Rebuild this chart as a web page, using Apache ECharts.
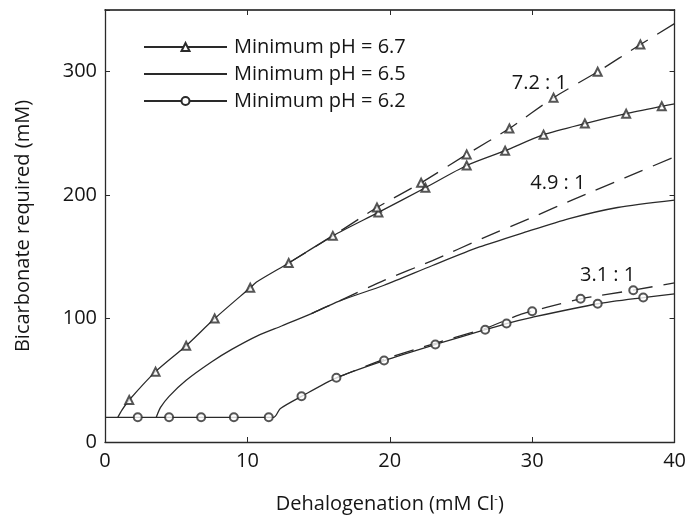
<!DOCTYPE html>
<html>
<head>
<meta charset="utf-8">
<title>Bicarbonate required</title>
<script src="https://cdn.jsdelivr.net/npm/echarts@6/dist/echarts.min.js"></script>
<style>html,body{margin:0;background:#fff;}</style>
</head>
<body>
<div id="chartmain" style="width:689px;height:521px;"></div>
<script type="text/javascript">
// values: [dehalogenation mM Cl-, bicarbonate mM]
var ph67Line = [[0.9,20],[1.2,26],[1.7,34],[3.55,57],[5.7,78],[7.7,100],[10.2,125],[10.7,130],[12.9,145],[16,167],[19.2,186],[22.5,206],[25.4,224],[28.1,236],[30.8,249],[33.7,258],[36.6,266],[39.1,272],[40,274]];
var ph67Dash = [[12.9,145],[16,167],[19.1,190],[22.2,210],[25.4,233],[28.4,254],[31.5,279],[34.6,300],[37.6,322],[40,339]];
var ph67Marks = [[1.7,34],[3.55,57],[5.7,78],[7.7,100],[10.2,125],[12.9,145],[16,167],[19.2,186],[22.5,206],[25.4,224],[28.1,236],[30.8,249],[33.7,258],[36.6,266],[39.1,272]];
var ph67DashMarks = [[19.1,190],[22.2,210],[25.4,233],[28.4,254],[31.5,279],[34.6,300],[37.6,322]];

var ph65Line = [[3.6,20],[3.9,28],[4.5,37],[5.7,50],[7.5,65],[8.9,75],[10.7,86],[12.4,94],[14.5,104],[16.4,114],[19.6,127],[23,143],[26.3,158],[29.5,170],[32.6,181],[36,190],[40,196]];
var ph65Dash = [[14.5,104],[16.4,114],[19.6,131],[23,147],[26.5,165],[29.8,181],[33,197],[36.5,214],[40,231]];

var ph62Line = [[0,20],[11.85,20],[12.3,27],[13.8,37],[16.25,52],[19.6,66],[23.2,79],[26.7,91],[28.2,96],[30,101],[34.6,112],[37.8,117],[40,120]];
var ph62Dash = [[16.25,52],[19.6,67],[23.2,80],[26.7,92],[29.1,103],[31,109],[33.4,116],[37.1,123],[40,129]];
var ph62Marks = [[2.3,20],[4.5,20],[6.75,20],[9.05,20],[11.5,20],[13.8,37],[16.25,52],[19.6,66],[23.2,79],[26.7,91],[28.2,96],[34.6,112],[37.8,117]];
var ph62DashMarks = [[30,106],[33.4,116],[37.1,123]];

var legendNames = ['Minimum pH = 6.7', 'Minimum pH = 6.5', 'Minimum pH = 6.2'];
var ratioLabels = ['7.2 : 1', '4.9 : 1', '3.1 : 1'];
var ratioPos = [[30.5,291],[31.8,210],[35.3,135]];
var xTicks = [0, 10, 20, 30, 40];
var yTicks = [0, 100, 200, 300];

var ink = '#2a2a2a';
var txt = '#151515';
var font = 'Open Sans';

function solid(name, data, symbol) {
    return {
        name: name, type: 'line', data: data, smooth: 0.25,
        symbol: symbol, showSymbol: false, symbolSize: 8,
        lineStyle: {color: ink, width: 1.3}, itemStyle: {color: ink},
        z: 3, silent: true
    };
}
function dashed(data, label, pos) {
    return {
        type: 'line', data: data, smooth: 0.2, symbol: 'none',
        lineStyle: {color: ink, width: 1.3, type: [20, 11]},
        z: 2, silent: true,
        markPoint: {
            symbol: 'circle', symbolSize: 0,
            label: {show: true, position: 'inside', formatter: label, color: txt, fontSize: 20, fontFamily: font},
            data: [{coord: pos}]
        }
    };
}
function marks(data, symbol) {
    return {
        type: 'scatter', data: data, symbol: symbol, symbolSize: 8,
        itemStyle: {color: ink, borderColor: ink, borderWidth: 1.1},
        z: 4, silent: true
    };
}

var option = {
    backgroundColor: '#fff',
    animation: false,
    grid: {left: 105, right: 10, top: 10, bottom: 79},
    legend: {
        left: 143, top: 36, orient: 'vertical', padding: 0,
        itemWidth: 83, itemHeight: 10, itemGap: 5,
        textStyle: {color: txt, fontSize: 20, fontFamily: font, padding: [0, 0, 0, 2], lineHeight: 22},
        data: [
            {name: legendNames[0]},
            {name: legendNames[1], itemStyle: {opacity: 0}},
            {name: legendNames[2]}
        ]
    },
    xAxis: [{
        type: 'value', min: 0, max: 40, interval: 10,
        name: 'Dehalogenation (mM Cl{sup|-})', nameLocation: 'middle', nameGap: 51,
        nameTextStyle: {color: txt, fontSize: 20, fontFamily: font,
            rich: {sup: {fontSize: 11, fontFamily: font, color: txt, padding: [0, 0, 12, 0]}}},
        axisLine: {lineStyle: {color: ink, width: 1.3}},
        axisTick: {inside: true, length: 5, lineStyle: {color: ink}},
        axisLabel: {color: txt, fontSize: 20, fontFamily: font, margin: 9,
            formatter: function (v) { return xTicks.indexOf(v) >= 0 ? v : ''; }},
        splitLine: {show: false}
    }, {
        type: 'value', min: 0, max: 40, interval: 10, position: 'top',
        axisLine: {show: true, onZero: false, lineStyle: {color: '#111', width: 1.5}},
        axisTick: {show: true, inside: true, length: 5, lineStyle: {color: ink}},
        axisLabel: {show: false}, splitLine: {show: false}
    }],
    yAxis: [{
        type: 'value', min: 0, max: 350, interval: 100,
        name: 'Bicarbonate required (mM)', nameLocation: 'middle', nameGap: 72,
        nameTextStyle: {color: txt, fontSize: 20, fontFamily: font},
        axisLine: {show: true, lineStyle: {color: ink, width: 1.3}},
        axisTick: {inside: true, length: 5, lineStyle: {color: ink}},
        axisLabel: {color: txt, fontSize: 20, fontFamily: font, margin: 8,
            formatter: function (v) { return yTicks.indexOf(v) >= 0 ? v : ''; }},
        splitLine: {show: false}
    }, {
        type: 'value', min: 0, max: 350, interval: 100, position: 'right',
        axisLine: {show: true, onZero: false, lineStyle: {color: ink, width: 1.3}},
        axisTick: {show: true, inside: true, length: 5, lineStyle: {color: ink}},
        axisLabel: {show: false}, splitLine: {show: false}
    }],
    series: [
        solid(legendNames[0], ph67Line, 'emptyTriangle'),
        solid(legendNames[1], ph65Line, 'emptyCircle'),
        solid(legendNames[2], ph62Line, 'emptyCircle'),
        dashed(ph67Dash, ratioLabels[0], ratioPos[0]),
        dashed(ph65Dash, ratioLabels[1], ratioPos[1]),
        dashed(ph62Dash, ratioLabels[2], ratioPos[2]),
        marks(ph67Marks, 'emptyTriangle'),
        marks(ph67DashMarks, 'emptyTriangle'),
        marks(ph62Marks, 'emptyCircle'),
        marks(ph62DashMarks, 'emptyCircle'),
        // empty series so the top and right axes are drawn
        {type: 'line', data: [], xAxisIndex: 1, yAxisIndex: 1, silent: true}
    ]
};

var myChart = echarts.init(document.getElementById('chartmain'));
myChart.setOption(option);
</script>
</body>
</html>
